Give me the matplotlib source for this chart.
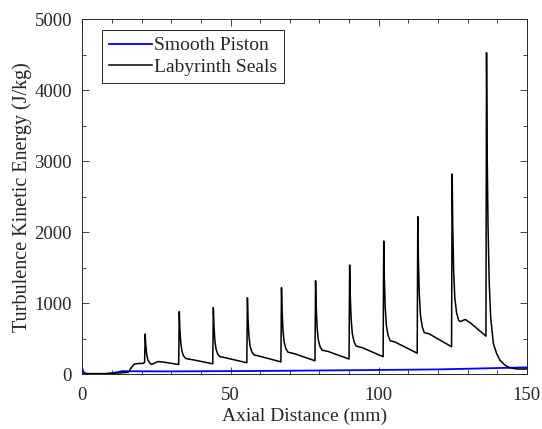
import matplotlib
matplotlib.use("Agg")
import matplotlib.pyplot as plt
from matplotlib.ticker import MultipleLocator

# Smooth piston (blue) key points
smooth_x = [0, 0.4, 1.5, 8, 11, 13.5, 16, 30, 60, 100, 120, 140, 150]
smooth_y = [80, 25, 5, 5, 20, 42, 40, 38, 44, 58, 66, 85, 95]

# Labyrinth seals (black) key points
laby_x = [0, 8, 12, 15.5, 16.5, 17.5, 19, 20.6, 21.0,
          21.2, 21.4, 21.7, 22.1, 22.7, 23.4, 25.5, 28.0, 32.5,
          32.7, 32.9, 33.2, 33.6, 34.2, 34.9, 37.5, 44.0,
          44.2, 44.4, 44.7, 45.1, 45.7, 46.4, 48.5, 55.5,
          55.7, 55.9, 56.2, 56.6, 57.2, 57.9, 60.0, 67.0,
          67.2, 67.4, 67.7, 68.1, 68.7, 69.4, 71.5, 78.5,
          78.7, 78.9, 79.2, 79.6, 80.2, 80.9, 83.0, 90.0,
          90.2, 90.4, 90.7, 91.1, 91.7, 92.4, 94.5, 101.5,
          101.7, 101.9, 102.2, 102.6, 103.2, 103.9, 105.5, 113.0,
          113.2, 113.4, 113.7, 114.1, 114.7, 115.4, 117.0, 124.6,
          124.8, 125.0, 125.3, 125.7, 126.3, 127.0, 127.6, 129.2, 131.0, 136.2,
          136.4, 136.6, 136.9, 137.3, 137.8, 138.7, 139.8, 140.9, 142.6,
          144.3, 146.6, 150.0]
laby_y = [5, 5, 15, 25, 90, 140, 150, 150, 170,
          565, 412, 280, 201, 158, 136, 177, 165, 135,
          880, 644, 441, 320, 252, 219, 200, 145,
          937, 690, 479, 352, 281, 246, 228, 160,
          1075, 788, 542, 394, 312, 271, 250, 172,
          1218, 893, 615, 448, 355, 309, 288, 188,
          1316, 967, 667, 488, 388, 338, 318, 212,
          1537, 1129, 780, 570, 454, 395, 372, 245,
          1875, 1373, 942, 684, 540, 469, 452, 295,
          2218, 1634, 1134, 834, 667, 583, 568, 385,
          2820, 2083, 1451, 1072, 861, 756, 740, 770, 720, 535,
          4530, 3200, 2100, 1300, 800, 432, 291, 197, 127,
          89, 72, 72]

x_ticks = [0, 50, 100, 150]
y_ticks = [0, 1000, 2000, 3000, 4000, 5000]

plt.rcParams['font.family'] = ['Liberation Serif', 'DejaVu Serif']
txt = '#262626'

fig = plt.figure(figsize=(5.42, 4.29), dpi=100)
ax = fig.add_axes([0.152, 0.128, 0.820, 0.827])

ax.plot(smooth_x, smooth_y, color='#0000ff', lw=1.3, label='Smooth Piston')
ax.plot(laby_x, laby_y, color='black', lw=1.1, label='Labyrinth Seals')

ax.set_xlim(0, 150)
ax.set_ylim(0, 5000)
ax.set_xticks(x_ticks)
ax.set_yticks(y_ticks)
ax.xaxis.set_minor_locator(MultipleLocator(10))
ax.yaxis.set_minor_locator(MultipleLocator(500))
ax.tick_params(which='both', direction='in', top=True, right=True,
               labelsize=13.5, colors=txt, labelcolor=txt, width=0.6)
ax.tick_params(which='major', length=5)
ax.tick_params(which='minor', length=3)
ax.tick_params(axis='x', which='major', pad=9)
ax.tick_params(axis='y', which='major', pad=7.5)
for s in ax.spines.values():
    s.set_linewidth(0.7)
    s.set_color(txt)

ax.set_xlabel('Axial Distance (mm)', fontsize=14, color=txt, labelpad=3)
ax.set_ylabel('Turbulence Kinetic Energy (J/kg)', fontsize=14.5, color=txt, labelpad=2)

leg = ax.legend(loc='upper left', bbox_to_anchor=(0.045, 0.97), fontsize=14,
                frameon=True, fancybox=False, edgecolor=txt, framealpha=1,
                handlelength=2.2, handletextpad=0.1, borderpad=0.35,
                labelspacing=0.2, borderaxespad=0)
leg.get_frame().set_linewidth(0.7)
for t in leg.get_texts():
    t.set_color(txt)

fig.savefig('out.png', dpi=100)
